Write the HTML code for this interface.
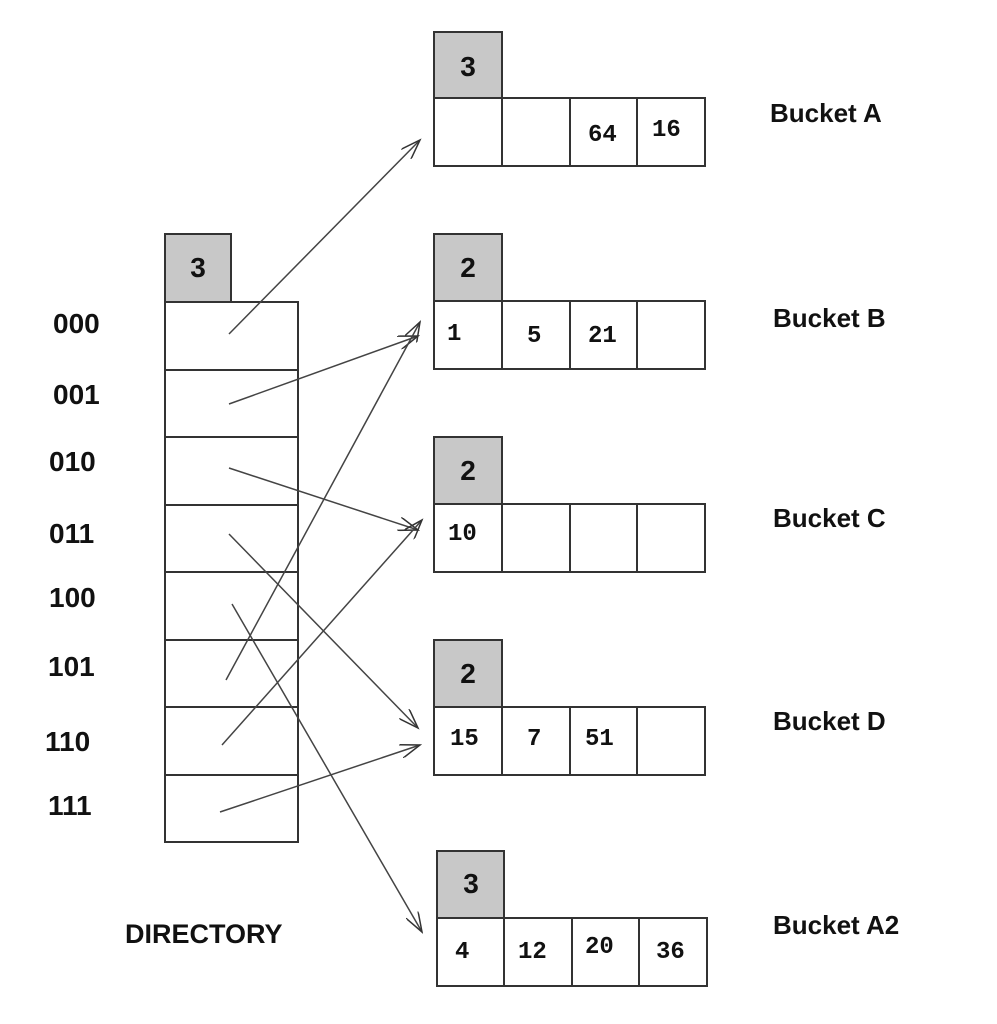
<!DOCTYPE html>
<html><head><meta charset="utf-8"><style>
html,body{margin:0;padding:0;background:#fff;}
svg{display:block;}
.lab{font-family:"Liberation Sans",sans-serif;font-weight:bold;font-size:28px;fill:#111;}
.bl{font-family:"Liberation Sans",sans-serif;font-weight:bold;font-size:26px;fill:#111;}
.num{font-family:"Liberation Mono",monospace;font-weight:bold;font-size:24px;fill:#111;}
.hd{font-family:"Liberation Sans",sans-serif;font-weight:bold;font-size:28px;fill:#111;text-anchor:middle;}
</style></head><body>
<svg width="997" height="1024" viewBox="0 0 997 1024" xmlns="http://www.w3.org/2000/svg">
<defs><marker id="a" markerWidth="22" markerHeight="14" refX="20" refY="7" orient="auto" markerUnits="userSpaceOnUse">
<path d="M0,0 L20,7 L0,14" fill="none" stroke="#333" stroke-width="1.5"/></marker></defs>
<g stroke="#333" stroke-width="2" fill="#fff">
<!-- directory -->
<rect x="165" y="234" width="66" height="68" fill="#c8c8c8"/>
<rect x="165" y="302" width="133" height="540"/>
<line x1="165" y1="370" x2="298" y2="370"/><line x1="165" y1="437" x2="298" y2="437"/>
<line x1="165" y1="505" x2="298" y2="505"/><line x1="165" y1="572" x2="298" y2="572"/>
<line x1="165" y1="640" x2="298" y2="640"/><line x1="165" y1="707" x2="298" y2="707"/>
<line x1="165" y1="775" x2="298" y2="775"/>
<!-- buckets -->
<rect x="434" y="32" width="68" height="66" fill="#c8c8c8"/>
<rect x="434" y="98" width="271" height="68"/><line x1="502" y1="98" x2="502" y2="166"/><line x1="570" y1="98" x2="570" y2="166"/><line x1="637" y1="98" x2="637" y2="166"/>
<rect x="434" y="234" width="68" height="67" fill="#c8c8c8"/>
<rect x="434" y="301" width="271" height="68"/><line x1="502" y1="301" x2="502" y2="369"/><line x1="570" y1="301" x2="570" y2="369"/><line x1="637" y1="301" x2="637" y2="369"/>
<rect x="434" y="437" width="68" height="67" fill="#c8c8c8"/>
<rect x="434" y="504" width="271" height="68"/><line x1="502" y1="504" x2="502" y2="572"/><line x1="570" y1="504" x2="570" y2="572"/><line x1="637" y1="504" x2="637" y2="572"/>
<rect x="434" y="640" width="68" height="67" fill="#c8c8c8"/>
<rect x="434" y="707" width="271" height="68"/><line x1="502" y1="707" x2="502" y2="775"/><line x1="570" y1="707" x2="570" y2="775"/><line x1="637" y1="707" x2="637" y2="775"/>
<rect x="437" y="851" width="67" height="67" fill="#c8c8c8"/>
<rect x="437" y="918" width="270" height="68"/><line x1="504" y1="918" x2="504" y2="986"/><line x1="572" y1="918" x2="572" y2="986"/><line x1="639" y1="918" x2="639" y2="986"/>
</g>
<g stroke="#444" stroke-width="1.5" fill="none" marker-end="url(#a)">
<line x1="229" y1="334" x2="420" y2="140"/>
<line x1="229" y1="404" x2="418" y2="336"/>
<line x1="229" y1="468" x2="418" y2="530"/>
<line x1="229" y1="534" x2="418" y2="728"/>
<line x1="232" y1="604" x2="422" y2="932"/>
<line x1="226" y1="680" x2="420" y2="322"/>
<line x1="222" y1="745" x2="422" y2="520"/>
<line x1="220" y1="812" x2="420" y2="745"/>
</g>
<text class="hd" x="198" y="277">3</text>
<text class="hd" x="468" y="76">3</text>
<text class="hd" x="468" y="277">2</text>
<text class="hd" x="468" y="480">2</text>
<text class="hd" x="468" y="683">2</text>
<text class="hd" x="471" y="893">3</text>
<text class="lab" x="53" y="333">000</text>
<text class="lab" x="53" y="404">001</text>
<text class="lab" x="49" y="471">010</text>
<text class="lab" x="49" y="543">011</text>
<text class="lab" x="49" y="607">100</text>
<text class="lab" x="48" y="676">101</text>
<text class="lab" x="45" y="751">110</text>
<text class="lab" x="48" y="815">111</text>
<text class="lab" x="125" y="943" style="font-size:27px">DIRECTORY</text>
<text class="bl" x="770" y="122">Bucket A</text>
<text class="bl" x="773" y="327">Bucket B</text>
<text class="bl" x="773" y="527">Bucket C</text>
<text class="bl" x="773" y="730">Bucket D</text>
<text class="bl" x="773" y="934">Bucket A2</text>
<text class="num" x="588" y="141">64</text><text class="num" x="652" y="136">16</text>
<text class="num" x="447" y="340">1</text><text class="num" x="527" y="342">5</text><text class="num" x="588" y="342">21</text>
<text class="num" x="448" y="540">10</text>
<text class="num" x="450" y="745">15</text><text class="num" x="527" y="745">7</text><text class="num" x="585" y="745">51</text>
<text class="num" x="455" y="958">4</text><text class="num" x="518" y="958">12</text><text class="num" x="585" y="953">20</text><text class="num" x="656" y="958">36</text>
</svg>
</body></html>
